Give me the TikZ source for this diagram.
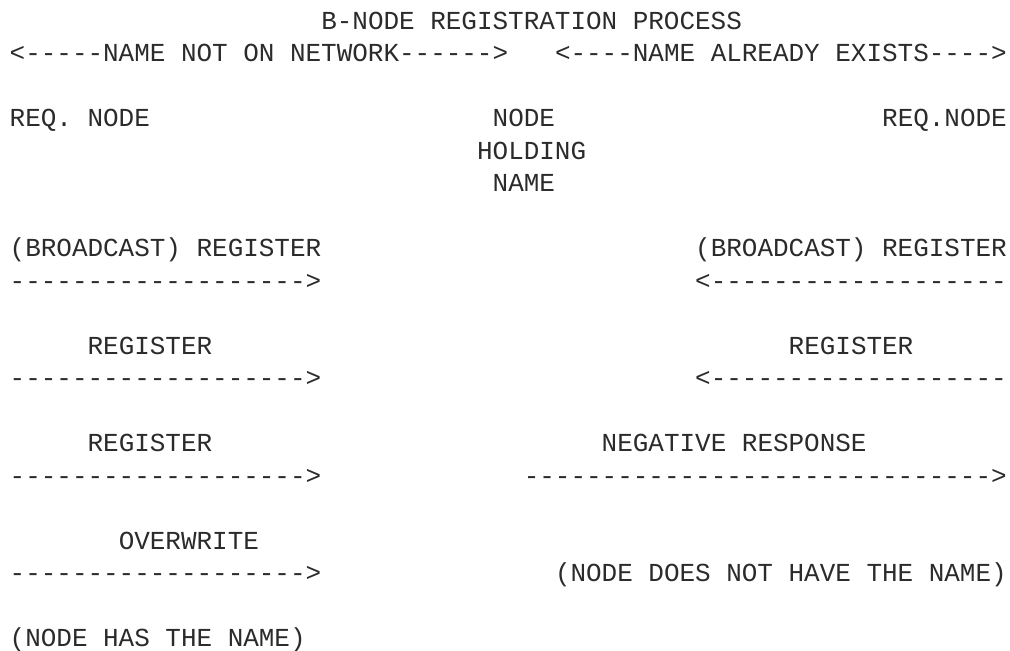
\documentclass[tikz,border=0pt]{standalone}
\usepackage{fontspec}
\setmonofont{Liberation Mono}
\definecolor{ink}{HTML}{2B2B2B}
\newcommand\asciicell[4]{\node[txt] (#1) at ({9.7+#2*15.58},{-29.2-#3*32.5}) {#4};}
\begin{document}
\begin{tikzpicture}[x=1pt,y=1pt,
  txt/.style={anchor=base west,inner sep=0pt,outer sep=0pt,
    font=\ttfamily\fontsize{25.96}{32.5}\selectfont,text=ink}]
\useasboundingbox (0,0) rectangle (1010,-651);
\asciicell{title}{20}{0}{B-NODE REGISTRATION PROCESS}
\asciicell{notnet}{0}{1}{<-----NAME NOT ON NETWORK------>}
\asciicell{exists}{35}{1}{<----NAME ALREADY EXISTS---->}
\asciicell{reqa}{0}{3}{REQ. NODE}
\asciicell{hold1}{31}{3}{NODE}
\asciicell{reqb}{56}{3}{REQ.NODE}
\asciicell{hold2}{30}{4}{HOLDING}
\asciicell{hold3}{31}{5}{NAME}
\asciicell{bca}{0}{7}{(BROADCAST) REGISTER}
\asciicell{bcb}{44}{7}{(BROADCAST) REGISTER}
\asciicell{arra}{0}{8}{------------------->}
\asciicell{arrb}{44}{8}{<-------------------}
\asciicell{rega}{5}{10}{REGISTER}
\asciicell{regb}{50}{10}{REGISTER}
\asciicell{arrc}{0}{11}{------------------->}
\asciicell{arrd}{44}{11}{<-------------------}
\asciicell{regc}{5}{13}{REGISTER}
\asciicell{neg}{38}{13}{NEGATIVE RESPONSE}
\asciicell{arre}{0}{14}{------------------->}
\asciicell{arrf}{33}{14}{------------------------------>}
\asciicell{over}{7}{16}{OVERWRITE}
\asciicell{arrg}{0}{17}{------------------->}
\asciicell{doesnot}{35}{17}{(NODE DOES NOT HAVE THE NAME)}
\asciicell{has}{0}{19}{(NODE HAS THE NAME)}
\end{tikzpicture}
\end{document}
